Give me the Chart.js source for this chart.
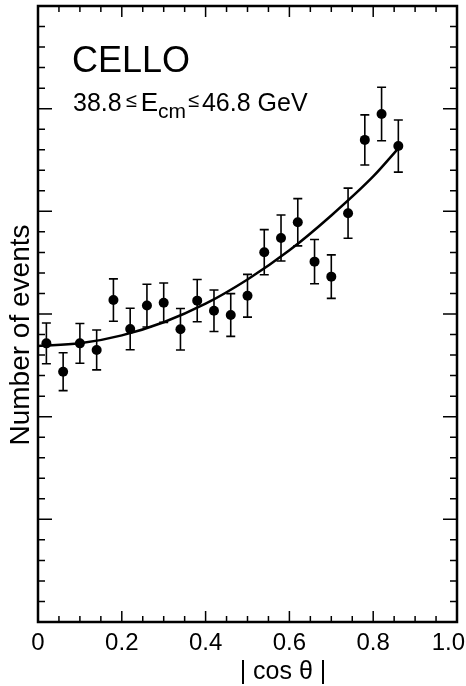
<!DOCTYPE html>
<html>
<head>
<meta charset="utf-8">
<script src="https://cdn.jsdelivr.net/npm/chart.js@4.4.1/dist/chart.umd.min.js"></script>
<style>
  html, body { margin: 0; padding: 0; background: #fff; }
</style>
</head>
<body>
<canvas id="chart" width="466" height="686"></canvas>
<script>
// |cos theta| bin centres and event counts (arbitrary units)
const cosBins = [0.02, 0.06, 0.10, 0.14, 0.18, 0.22, 0.26, 0.30, 0.34, 0.38, 0.42,
                 0.46, 0.50, 0.54, 0.58, 0.62, 0.66, 0.70, 0.74, 0.78, 0.82, 0.86];
const events = [13.57, 12.19, 13.57, 13.25, 15.68, 14.27, 15.41, 15.55, 14.26, 15.65, 15.16,
                14.95, 15.89, 18.01, 18.70, 19.47, 17.55, 16.82, 19.91, 23.48, 24.74, 23.18];
const errors = [0.99, 0.92, 0.97, 0.97, 1.03, 1.01, 1.04, 0.96, 1.01, 1.03, 1.01,
                1.04, 1.04, 1.10, 1.12, 1.15, 1.08, 1.06, 1.22, 1.22, 1.30, 1.27];

// fitted curve, read at a few points
const fitX = [0, 0.1, 0.2, 0.3, 0.4, 0.5, 0.6, 0.7, 0.8, 0.86];
const fitY = [13.44, 13.57, 13.96, 14.6, 15.5, 16.68, 18.1, 19.8, 21.7, 23.07];

const xTickValues = [0, 0.2, 0.4, 0.6, 0.8, 1.0];
const xTickLabels = ["0", "0.2", "0.4", "0.6", "0.8", "1.0"];

const FONT = "'Liberation Sans', Arial, sans-serif";

const points = cosBins.map((x, i) => ({ x: x, y: events[i] }));
const fitLine = fitX.map((x, i) => ({ x: x, y: fitY[i] }));

// frame with inward ticks, error bars and all the lettering
const framePlugin = {
  id: "frame",
  beforeDatasetsDraw(chart) {
    const ctx = chart.ctx;
    const xs = chart.scales.x;
    const ys = chart.scales.y;
    ctx.save();
    ctx.strokeStyle = "#000";
    ctx.lineWidth = 1.6;
    cosBins.forEach((c, i) => {
      const px = xs.getPixelForValue(c);
      const top = ys.getPixelForValue(events[i] + errors[i]);
      const bot = ys.getPixelForValue(events[i] - errors[i]);
      ctx.beginPath();
      ctx.moveTo(px, top);
      ctx.lineTo(px, bot);
      ctx.moveTo(px - 4.5, top);
      ctx.lineTo(px + 4.5, top);
      ctx.moveTo(px - 4.5, bot);
      ctx.lineTo(px + 4.5, bot);
      ctx.stroke();
    });
    ctx.restore();
  },
  afterDraw(chart) {
    const ctx = chart.ctx;
    const a = chart.chartArea;
    const xs = chart.scales.x;
    const ys = chart.scales.y;
    ctx.save();
    ctx.strokeStyle = "#000";
    ctx.fillStyle = "#000";

    // ticks on y (both sides)
    ctx.lineWidth = 1.5;
    ctx.beginPath();
    for (let v = 1; v < 30; v++) {
      const py = ys.getPixelForValue(v);
      const len = v % 5 === 0 ? 14 : 7;
      ctx.moveTo(a.left, py);
      ctx.lineTo(a.left + len, py);
      ctx.moveTo(a.right, py);
      ctx.lineTo(a.right - len, py);
    }
    // ticks on x (top and bottom)
    for (let k = 1; k < 20; k++) {
      const px = xs.getPixelForValue(k * 0.05);
      const len = k % 4 === 0 ? 11 : 6;
      ctx.moveTo(px, a.bottom);
      ctx.lineTo(px, a.bottom - len);
      ctx.moveTo(px, a.top);
      ctx.lineTo(px, a.top + len);
    }
    ctx.stroke();

    // frame
    ctx.lineWidth = 2.5;
    ctx.strokeRect(a.left, a.top, a.right - a.left, a.bottom - a.top);

    // x tick labels
    ctx.font = "24px " + FONT;
    ctx.textAlign = "center";
    ctx.textBaseline = "middle";
    xTickValues.forEach((v, i) => {
      let px = xs.getPixelForValue(v);
      const w = ctx.measureText(xTickLabels[i]).width;
      px = Math.min(px, chart.width - w / 2 - 1);
      ctx.fillText(xTickLabels[i], px, 643);
    });

    // axis titles
    ctx.font = "25px " + FONT;
    ctx.fillText("| cos \u03b8 |", 283, 672);

    ctx.save();
    ctx.translate(21, 335);
    ctx.rotate(-Math.PI / 2);
    ctx.font = "28px " + FONT;
    ctx.fillText("Number of events", 0, 0);
    ctx.restore();

    // labels inside the plot
    ctx.textAlign = "left";
    ctx.textBaseline = "alphabetic";
    ctx.font = "36px " + FONT;
    ctx.fillText("CELLO", 72, 72);

    let x = 73;
    const base = 111;
    const piece = (txt, size, dy) => {
      ctx.font = size + "px " + FONT;
      ctx.fillText(txt, x, base + dy);
      x += ctx.measureText(txt).width;
    };
    piece("38.8", 25, 0);
    x += 4;
    piece("\u2264", 20, -4);
    x += 4;
    piece("E", 26, 0);
    piece("cm", 21, 7);
    x += 2;
    piece("\u2264", 20, -4);
    x += 3;
    piece("46.8 GeV", 25, 0);

    ctx.restore();
  }
};

new Chart(document.getElementById("chart"), {
  type: "scatter",
  data: {
    datasets: [
      {
        type: "line",
        label: "fit",
        data: fitLine,
        borderColor: "#000",
        borderWidth: 2.5,
        pointRadius: 0,
        fill: false,
        cubicInterpolationMode: "monotone"
      },
      {
        label: "CELLO",
        data: points,
        backgroundColor: "#000",
        borderColor: "#000",
        borderWidth: 0,
        pointRadius: 5
      }
    ]
  },
  options: {
    responsive: false,
    animation: false,
    layout: { padding: { left: 38, right: 9, top: 6, bottom: 64 } },
    plugins: {
      legend: { display: false },
      tooltip: { enabled: false }
    },
    scales: {
      x: { type: "linear", min: 0, max: 1, display: false },
      y: { type: "linear", min: 0, max: 30, display: false }
    }
  },
  plugins: [framePlugin]
});
</script>
</body>
</html>
